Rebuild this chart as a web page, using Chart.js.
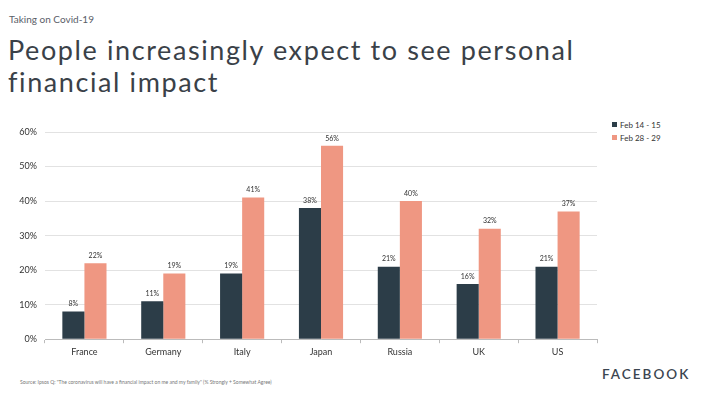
<!DOCTYPE html>
<html><head><meta charset="utf-8">
<script src="https://cdn.jsdelivr.net/npm/chart.js@4"></script>
<style>
html,body{margin:0;padding:0;background:#fff;width:706px;height:400px;overflow:hidden;font-family:Lato,sans-serif;}
#kicker{position:absolute;left:9px;top:13px;font-size:10px;color:#5a6068;}
#title{position:absolute;left:8px;top:34px;font-size:27px;line-height:32px;color:#3a4148;letter-spacing:1.6px;}
#wrap{position:absolute;left:0;top:118px;width:600px;height:244px;}
#legend{position:absolute;left:612px;top:119px;font-size:8px;color:#333;}
#legend div{height:13px;line-height:13px;}
#legend span{display:inline-block;width:5px;height:5px;margin-right:3px;vertical-align:1px;}
#source{position:absolute;left:20px;top:379px;font-size:5px;color:#777;}
#fb{position:absolute;left:602px;top:366px;font-size:13.5px;color:#3b4550;letter-spacing:2px;font-weight:600;}
</style></head>
<body>
<div id="kicker">Taking on Covid-19</div>
<div id="title">People increasingly expect to see personal<br>financial impact</div>
<div id="wrap"><canvas id="c"></canvas></div>
<div id="legend"></div>
<div id="source">Source: Ipsos Q: "The coronavirus will have a financial impact on me and my family" (% Strongly + Somewhat Agree)</div>
<div id="fb">FACEBOOK</div>
<script>
const categories = ["France","Germany","Italy","Japan","Russia","UK","US"];
const seriesNames = ["Feb 14 - 15","Feb 28 - 29"];
const feb14 = [8,11,19,38,21,16,21];
const feb28 = [22,19,41,56,40,32,37];
const yTicks = [0,10,20,30,40,50,60];
const colors = ["#2c3d48","#ef9782"];

const leg = document.getElementById('legend');
seriesNames.forEach((n,i)=>{const d=document.createElement('div');d.innerHTML='<span style="background:'+colors[i]+'"></span>'+n;leg.appendChild(d);});

const labelPlugin = {
  id:'vals',
  afterDatasetsDraw(chart){
    const ctx=chart.ctx;
    ctx.save();
    ctx.font='7px Lato';
    ctx.fillStyle='#333';
    ctx.textAlign='center';
    ctx.textBaseline='bottom';
    chart.data.datasets.forEach((ds,di)=>{
      chart.getDatasetMeta(di).data.forEach((el,i)=>{
        ctx.fillText(ds.data[i]+'%', el.x, el.y-4);
      });
    });
    ctx.restore();
  }
};

new Chart(document.getElementById('c'),{
  type:'bar',
  data:{labels:categories,datasets:[
    {label:seriesNames[0],data:feb14,backgroundColor:colors[0]},
    {label:seriesNames[1],data:feb28,backgroundColor:colors[1]}
  ]},
  options:{
    responsive:true,maintainAspectRatio:false,animation:false,
    layout:{padding:{top:14,right:3,bottom:2,left:0}},
    categoryPercentage:0.56,barPercentage:1,
    plugins:{legend:{display:false},tooltip:{enabled:false}},
    scales:{
      x:{
        grid:{display:true,drawOnChartArea:false,tickLength:4,color:'#bbb'},
        border:{display:true,color:'#bbb'},
        ticks:{color:'#333',font:{family:'Lato',size:9},padding:3}
      },
      y:{
        min:0,max:60,
        afterBuildTicks(s){s.ticks=yTicks.map(v=>({value:v}));},
        afterFit(s){s.width=45;},
        grid:{color:'#e2e2e2',drawTicks:false},
        border:{display:false},
        ticks:{color:'#333',font:{family:'Lato',size:9},padding:8,callback:v=>v+'%'}
      }
    }
  },
  plugins:[labelPlugin]
});
</script>
</body></html>
